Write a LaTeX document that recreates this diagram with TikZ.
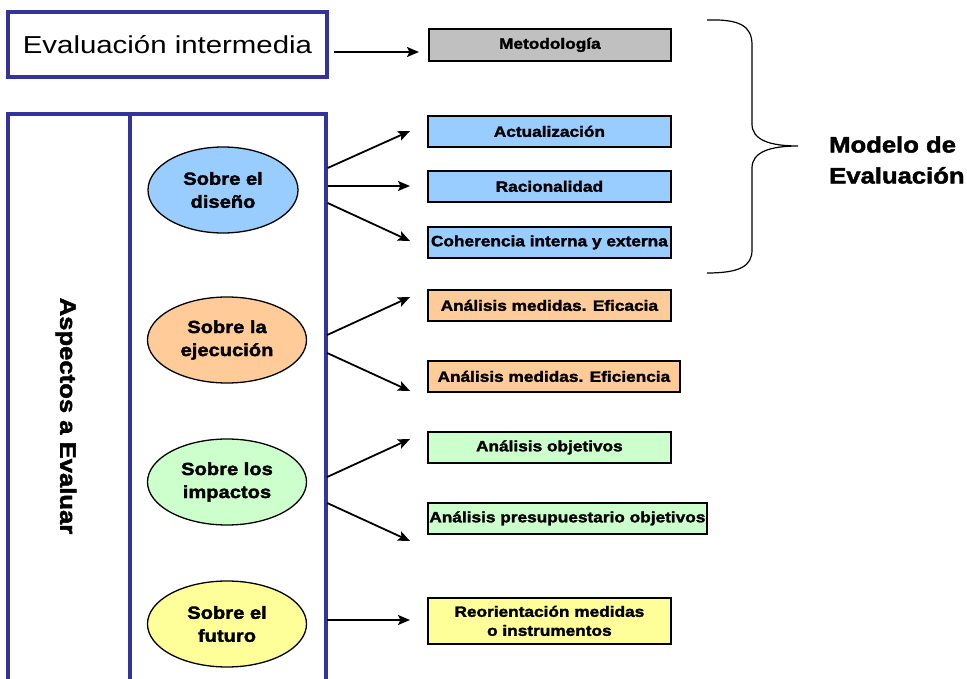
\documentclass[tikz,border=0pt]{standalone}
\usepackage{fontspec}
\setmainfont{Liberation Sans}
\newfontfamily\regfont[FakeStretch=1.2]{Liberation Sans}
\newfontfamily\heavy[FakeStretch=1.15,FakeBold=2]{Liberation Sans}
\usetikzlibrary{arrows.meta,shapes.geometric}
\definecolor{frameblue}{HTML}{333399}
\definecolor{cblue}{HTML}{99CCFF}
\definecolor{corange}{HTML}{FFCC99}
\definecolor{cgreen}{HTML}{CCFFCC}
\definecolor{cyellow}{HTML}{FFFF99}
\definecolor{cgray}{HTML}{C0C0C0}
\begin{document}
\begin{tikzpicture}[x=1pt,y=-1pt,
  frame/.style={draw=frameblue,line width=3.2pt},
  aspect/.style={ellipse,draw=black,line width=1.3pt,minimum width=159pt,minimum height=86pt,inner sep=0pt,align=center,
    font=\fontsize{17.5}{23}\heavy\bfseries},
  itembox/.style={draw=black,line width=1.8pt,minimum height=31pt,inner sep=0pt,align=center,
    font=\fontsize{15}{19}\heavy\bfseries},
  arr/.style={line width=1.8pt,-{Stealth[length=12pt,width=10pt,inset=2.5pt]}}
]
\useasboundingbox (0,0) rectangle (967,679);
% frames
\node[frame,minimum width=319pt,minimum height=65pt,inner sep=0pt,outer sep=0pt,anchor=north west,
  font=\fontsize{24.5}{28}\regfont] (evi) at (8,12) {Evaluación intermedia};
\draw[frame] (8,700) -- (8,114) -- (326,114) -- (326,700);
\draw[frame] (130,114) -- (130,700);
\node[rotate=-90,font=\fontsize{22.3}{25}\heavy\bfseries] (asp) at (66,416) {Aspectos a Evaluar};
% ellipses
\node[aspect,fill=cblue,minimum width=150pt] (dis) at (223,190) {Sobre el\\diseño};
\node[aspect,fill=corange] (eje) at (227,340) {Sobre la\\ejecución};
\node[aspect,fill=cgreen] (imp) at (227,482) {Sobre los\\impactos};
\node[aspect,fill=cyellow] (fut) at (227,624) {Sobre el\\futuro};
% boxes
\node[itembox,fill=cgray,minimum width=242pt,minimum height=32pt,anchor=north west] (met) at (428,28) {Metodología};
\node[itembox,fill=cblue,minimum width=243pt,anchor=north west] (act) at (427,115) {Actualización};
\node[itembox,fill=cblue,minimum width=243pt,anchor=north west] (rac) at (427,170) {Racionalidad};
\node[itembox,fill=cblue,minimum width=243pt,anchor=north west] (coh) at (427,226) {Coherencia interna y externa};
\node[itembox,fill=corange,minimum width=243pt,anchor=north west] (efa) at (427,289) {Análisis medidas. Eficacia};
\node[itembox,fill=corange,minimum width=252pt,anchor=north west] (efe) at (427,360) {Análisis medidas. Eficiencia};
\node[itembox,fill=cgreen,minimum width=243pt,anchor=north west] (obj) at (427,431) {Análisis objetivos};
\node[itembox,fill=cgreen,minimum width=279pt,anchor=north west] (pre) at (427,502) {Análisis presupuestario objetivos};
\node[itembox,fill=cyellow,minimum width=243pt,minimum height=46pt,anchor=north west] (reo) at (427,597) {Reorientación medidas\\o instrumentos};
% arrow end points
\coordinate (a0) at (419,52);
\coordinate (a1) at (410,131);
\coordinate (a2) at (410,186);
\coordinate (a3) at (410,241);
\coordinate (a4) at (410,297);
\coordinate (a5) at (410,391);
\coordinate (a6) at (410,439);
\coordinate (a7) at (410,541);
\coordinate (a8) at (410,620);
\draw[arr] (evi.east |- a0) ++(7,0) -- (a0);
\draw[arr] (dis.east) ++(29,-22) -- (a1);
\draw[arr] (dis.east) ++(29,-4) -- (a2);
\draw[arr] (dis.east) ++(29,13) -- (a3);
\draw[arr] (eje.east) ++(20,-5) -- (a4);
\draw[arr] (eje.east) ++(20,13) -- (a5);
\draw[arr] (imp.east) ++(20,-5) -- (a6);
\draw[arr] (imp.east) ++(20,21) -- (a7);
\draw[arr] (fut.east) ++(20,-4) -- (a8);
% brace
\draw[line width=1.2pt] (707,20) .. controls (740,19) and (752,26) .. (752,45) -- (752,124)
  .. controls (752,140) and (770,146) .. (798,146)
  .. controls (770,146) and (752,152) .. (752,168) -- (752,250)
  .. controls (752,266) and (740,273) .. (707,273);
\node[anchor=west,align=left,font=\fontsize{22.3}{31}\heavy\bfseries,inner sep=0pt] (mod) at (829,160) {Modelo de\\Evaluación};
\end{tikzpicture}
\end{document}
